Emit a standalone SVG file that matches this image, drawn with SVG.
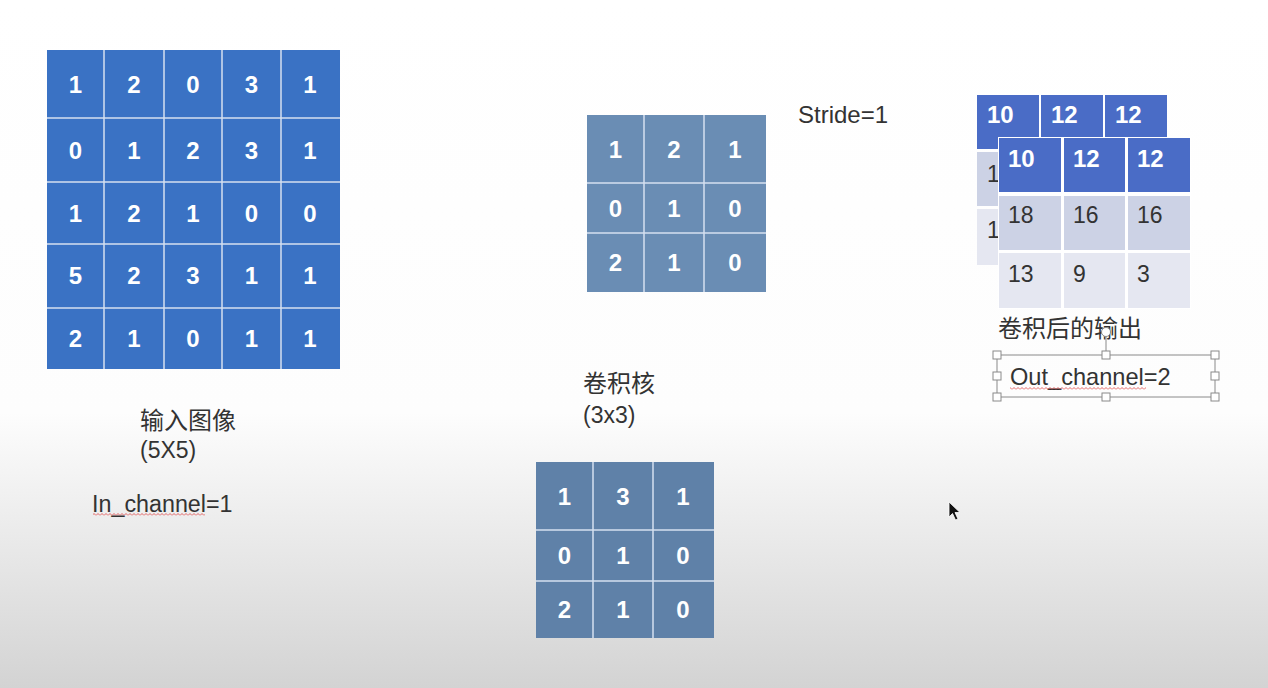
<svg xmlns="http://www.w3.org/2000/svg" width="1268" height="688" viewBox="0 0 1268 688">
<defs>
<linearGradient id="bg" x1="0" y1="0" x2="0" y2="1">
<stop offset="0" stop-color="#ffffff"/>
<stop offset="0.6" stop-color="#fdfdfd"/>
<stop offset="1" stop-color="#d3d3d3"/>
</linearGradient>
<pattern id="wave" width="4" height="3" patternUnits="userSpaceOnUse">
<path d="M0,2.5 L2,0.5 L4,2.5" stroke="#e04040" fill="none" stroke-width="0.8"/>
</pattern>
<style>
.t{font-family:"Liberation Sans","Noto Sans CJK SC",sans-serif;fill:#333333}
.num{font-family:"Liberation Sans",sans-serif;font-weight:bold;fill:#ffffff;text-anchor:middle}
.n24{font-size:24px}
.grid{stroke:#d5e0f0;stroke-width:1.5;fill:none}
.hd{fill:#4a6cc6}
.r2{fill:#ccd2e5}
.r3{fill:#e5e7f1}
.ot{font-family:"Liberation Sans",sans-serif;font-size:23px;fill:#333333}
.oh{font-family:"Liberation Sans",sans-serif;font-size:24px;font-weight:bold;fill:#ffffff}
.hdl{fill:#ffffff;stroke:#8a8a8a;stroke-width:1}
</style>
</defs>
<rect width="1268" height="688" fill="url(#bg)"/>

<g id="input-image">
<rect x="47" y="50" width="293" height="319" fill="#3a72c4"/>
<path class="grid" d="M104,50V369M164,50V369M222,50V369M281,50V369M47,118H340M47,182H340M47,244H340M47,308H340"/>
<g class="num n24">
<text x="75.5" y="93">1</text><text x="134" y="93">2</text><text x="193" y="93">0</text><text x="251.5" y="93">3</text><text x="310" y="93">1</text>
<text x="75.5" y="159">0</text><text x="134" y="159">1</text><text x="193" y="159">2</text><text x="251.5" y="159">3</text><text x="310" y="159">1</text>
<text x="75.5" y="222">1</text><text x="134" y="222">2</text><text x="193" y="222">1</text><text x="251.5" y="222">0</text><text x="310" y="222">0</text>
<text x="75.5" y="284">5</text><text x="134" y="284">2</text><text x="193" y="284">3</text><text x="251.5" y="284">1</text><text x="310" y="284">1</text>
<text x="75.5" y="347">2</text><text x="134" y="347">1</text><text x="193" y="347">0</text><text x="251.5" y="347">1</text><text x="310" y="347">1</text>
</g>
</g>

<g id="input-label">
<text class="t" x="140" y="429" font-size="24">输入图像</text>
<text class="t" x="140" y="458" font-size="23">(5X5)</text>
<text class="t" x="92" y="512" font-size="23.3">In_channel=1</text>
<rect x="93" y="513" width="112" height="3" fill="url(#wave)"/>
</g>

<g id="kernel-1">
<rect x="587" y="115" width="179" height="177" fill="#6a8db4"/>
<path class="grid" d="M644,115V292M704,115V292M587,183H766M587,233H766"/>
<g class="num n24">
<text x="615.5" y="158">1</text><text x="674" y="158">2</text><text x="735" y="158">1</text>
<text x="615.5" y="217">0</text><text x="674" y="217">1</text><text x="735" y="217">0</text>
<text x="615.5" y="271">2</text><text x="674" y="271">1</text><text x="735" y="271">0</text>
</g>
</g>

<g id="stride-label">
<text class="t" x="798" y="123" font-size="24">Stride=1</text>
</g>

<g id="kernel-label">
<text class="t" x="583" y="392" font-size="24">卷积核</text>
<text class="t" x="583" y="423" font-size="23">(3x3)</text>
</g>

<g id="kernel-2">
<rect x="536" y="462" width="178" height="176" fill="#5f81a8"/>
<path class="grid" d="M593,462V638M653,462V638M536,530H714M536,581H714"/>
<g class="num n24">
<text x="564.5" y="505">1</text><text x="623" y="505">3</text><text x="683" y="505">1</text>
<text x="564.5" y="564">0</text><text x="623" y="564">1</text><text x="683" y="564">0</text>
<text x="564.5" y="618">2</text><text x="623" y="618">1</text><text x="683" y="618">0</text>
</g>
</g>

<g id="output-back">
<rect class="hd" x="977" y="95" width="62" height="54"/>
<rect class="hd" x="1041" y="95" width="62" height="54"/>
<rect class="hd" x="1105" y="95" width="62" height="54"/>
<rect class="r2" x="977" y="152" width="62" height="54"/>
<rect class="r3" x="977" y="209" width="62" height="56"/>
<text class="oh" x="987" y="123" font-size="22">10</text>
<text class="oh" x="1051" y="123" font-size="22">12</text>
<text class="oh" x="1115" y="123" font-size="22">12</text>
<text class="ot" x="987" y="182" font-size="21">18</text>
<text class="ot" x="987" y="238" font-size="21">13</text>
</g>

<g id="output-front">
<rect x="998" y="137" width="193" height="172" fill="#ffffff"/>
<rect class="hd" x="999" y="138" width="62" height="54"/>
<rect class="hd" x="1064" y="138" width="61" height="54"/>
<rect class="hd" x="1128" y="138" width="62" height="54"/>
<rect class="r2" x="999" y="196" width="62" height="54"/>
<rect class="r2" x="1064" y="196" width="61" height="54"/>
<rect class="r2" x="1128" y="196" width="62" height="54"/>
<rect class="r3" x="999" y="253" width="62" height="55"/>
<rect class="r3" x="1064" y="253" width="61" height="55"/>
<rect class="r3" x="1128" y="253" width="62" height="55"/>
<text class="oh" x="1008" y="167">10</text>
<text class="oh" x="1073" y="167">12</text>
<text class="oh" x="1137" y="167">12</text>
<text class="ot" x="1008" y="223">18</text>
<text class="ot" x="1073" y="223">16</text>
<text class="ot" x="1137" y="223">16</text>
<text class="ot" x="1008" y="282">13</text>
<text class="ot" x="1073" y="282">9</text>
<text class="ot" x="1137" y="282">3</text>
</g>

<g id="output-label">
<text class="t" x="998" y="337" font-size="24">卷积后的输出</text>
</g>

<g id="out-channel-box">
<line x1="1106" y1="337" x2="1106" y2="355" stroke="#8a8a8a" stroke-width="1"/>
<circle cx="1106" cy="332" r="4.5" fill="#ffffff" stroke="#8a8a8a" stroke-width="1"/>
<rect x="997" y="355" width="218" height="42" fill="none" stroke="#8a8a8a" stroke-width="1"/>
<text class="t" x="1010" y="385" font-size="23.6">Out_channel=2</text>
<rect x="1010" y="387" width="136" height="3" fill="url(#wave)"/>
<rect class="hdl" x="993" y="351" width="8" height="8"/>
<rect class="hdl" x="1102" y="351" width="8" height="8"/>
<rect class="hdl" x="1211" y="351" width="8" height="8"/>
<rect class="hdl" x="993" y="372" width="8" height="8"/>
<rect class="hdl" x="1211" y="372" width="8" height="8"/>
<rect class="hdl" x="993" y="393" width="8" height="8"/>
<rect class="hdl" x="1102" y="393" width="8" height="8"/>
<rect class="hdl" x="1211" y="393" width="8" height="8"/>
</g>

<g id="cursor">
<path d="M949,502 L949,517 L952.5,513.5 L955.5,520 L958,519 L955,512.5 L960,512.5 Z" fill="#111111" stroke="#ffffff" stroke-width="0.8"/>
</g>
</svg>
